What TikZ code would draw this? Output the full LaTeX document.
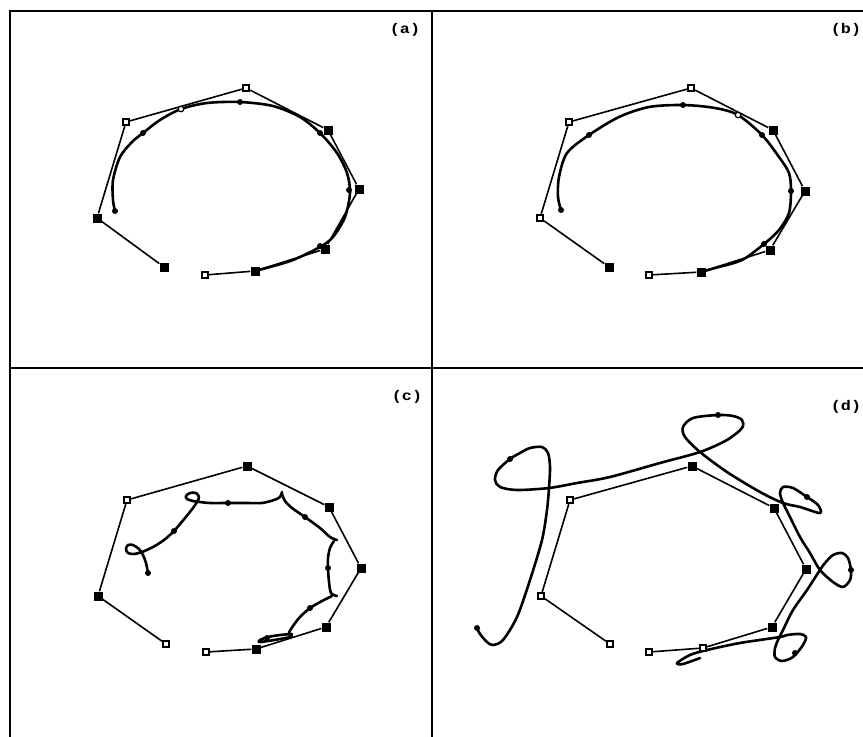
\documentclass[tikz,border=0pt]{standalone}
\usepackage{fontspec}
\newfontfamily\lblfont{Liberation Mono}
\begin{document}
\begin{tikzpicture}[x=1pt,y=-1pt,
 frame/.style={line width=2.2pt},
 poly/.style={line width=1.6pt},
 crv/.style={line width=2.6pt, line join=round, line cap=round},
 cpf/.style={rectangle, fill=black, minimum size=9pt, inner sep=0pt},
 cpo/.style={rectangle, draw=black, fill=white, line width=2.2pt, minimum size=6pt, inner sep=0pt},
 knot/.style={circle, fill=black, minimum size=6pt, inner sep=0pt},
 oknot/.style={circle, draw=black, fill=white, line width=1.2pt, minimum size=5.5pt, inner sep=0pt},
 lbl/.style={font=\lblfont\bfseries\fontsize{14}{14}\selectfont, inner sep=0pt}]
\useasboundingbox (0,0) rectangle (863,737);
% frame
\coordinate (tl) at (10,11);
\coordinate (tr) at (863,11);
\coordinate (bl) at (10,737);
\coordinate (tm) at (432,11);
\coordinate (bm) at (432,737);
\coordinate (ml) at (10,368);
\coordinate (mr) at (863,368);
\draw[frame] (bl) -- (tl) -- (tr);
\draw[frame] (tm) -- (bm);
\draw[frame] (ml) -- (mr);
% labels
\node[lbl] (la) at (405,30) {\scalebox{1.2}[1]{(a)}};
\node[lbl] (lb) at (846,30) {\scalebox{1.2}[1]{(b)}};
\node[lbl] (lc) at (407,397) {\scalebox{1.2}[1]{(c)}};
\node[lbl] (ld) at (846,407) {\scalebox{1.2}[1]{(d)}};

% ================= (a)
\draw[crv] plot[smooth] coordinates {(115,211) (113,200) (113,180) (120,157) (132,142) (143,133) (160,120) (181,109) (207,103) (240,102) (273,106) (300,117) (320,133) (337,153) (347,173) (350,193) (345,217) (333,237) (320,247) (293,260) (270,267) (255,271)};
\node[cpf] (a0) at (164,267) {};
\node[cpf] (a1) at (97,218) {};
\node[cpo] (a2) at (126,122) {};
\node[cpo] (a3) at (246,88) {};
\node[cpf] (a4) at (328,130) {};
\node[cpf] (a5) at (359,189) {};
\node[cpf] (a6) at (325,249) {};
\node[cpf] (a7) at (255,271) {};
\node[cpo] (a8) at (205,275) {};
\draw[poly] (a0) -- (a1) -- (a2) -- (a3) -- (a4) -- (a5) -- (a6) -- (a7) -- (a8);
\node[knot] (ak0) at (115,211) {};
\node[knot] (ak1) at (143,133) {};
\node[oknot] (ak2) at (181,109) {};
\node[knot] (ak3) at (240,102) {};
\node[knot] (ak4) at (320,133) {};
\node[knot] (ak5) at (349,190) {};
\node[knot] (ak6) at (320,246) {};

% ================= (b)
\draw[crv] plot[smooth] coordinates {(561,210) (558,197) (559,177) (567,153) (589,135) (619,117) (649,107) (683,105) (715,108) (738,115) (762,135) (779,157) (789,173) (791,191) (789,213) (779,230) (764,244) (742,260) (715,268) (701,272)};
\node[cpf] (b0) at (609,267) {};
\node[cpo] (b1) at (540,218) {};
\node[cpo] (b2) at (569,122) {};
\node[cpo] (b3) at (691,88) {};
\node[cpf] (b4) at (773,130) {};
\node[cpf] (b5) at (805,191) {};
\node[cpf] (b6) at (770,250) {};
\node[cpf] (b7) at (701,272) {};
\node[cpo] (b8) at (649,275) {};
\draw[poly] (b0) -- (b1) -- (b2) -- (b3) -- (b4) -- (b5) -- (b6) -- (b7) -- (b8);
\node[knot] (bk0) at (561,210) {};
\node[knot] (bk1) at (589,135) {};
\node[knot] (bk2) at (683,105) {};
\node[oknot] (bk3) at (738,115) {};
\node[knot] (bk4) at (762,135) {};
\node[knot] (bk5) at (791,191) {};
\node[knot] (bk6) at (764,244) {};

% ================= (c)
\draw[crv] plot[smooth] coordinates {(148,573) (146,563) (143,555) (139,549) (133,545) (128,545) (126,549) (128,553) (134,554) (142,552) (153,547) (164,540) (174,531) (185,518) (193,508) (197,502) (199,497) (196,493) (190,493) (186,496) (187,499) (193,501) (200,502) (210,503) (228,503) (247,503) (262,503) (274,500) (280,497) (282,492)};
\draw[crv] plot[smooth] coordinates {(282,494) (285,501) (292,508) (305,517) (320,528) (330,537) (337,540)};
\draw[crv] plot[smooth] coordinates {(334,541) (330,548) (328,558) (328,568) (329,582) (331,593) (337,596)};
\draw[crv] plot[smooth] coordinates {(332,596) (322,601) (310,608) (300,617) (293,626) (289,633) (292,636)};
\draw[crv] plot[smooth] coordinates {(292,634) (280,635) (268,637) (260,640) (259,642) (268,641) (280,639) (291,637)};
\node[cpo] (c0) at (166,644) {};
\node[cpf] (c1) at (98,596) {};
\node[cpo] (c2) at (127,500) {};
\node[cpf] (c3) at (247,466) {};
\node[cpf] (c4) at (329,507) {};
\node[cpf] (c5) at (361,568) {};
\node[cpf] (c6) at (326,627) {};
\node[cpf] (c7) at (256,649) {};
\node[cpo] (c8) at (206,652) {};
\draw[poly] (c0) -- (c1) -- (c2) -- (c3) -- (c4) -- (c5) -- (c6) -- (c7) -- (c8);
\node[knot] (ck0) at (148,573) {};
\node[knot] (ck1) at (174,531) {};
\node[knot] (ck2) at (228,503) {};
\node[knot] (ck3) at (305,517) {};
\node[knot] (ck4) at (328,568) {};
\node[knot] (ck5) at (310,608) {};
\node[knot] (ck6) at (267,638) {};

% ================= (d)
\draw[crv] plot[smooth] coordinates {(477,628) (480,634) (487,642) (493,645) (503,640) (517,617) (530,580) (542,540) (547,510) (549,488) (550,467) (548,453) (542,447) (530,448) (520,453) (510,459) (498,470) (495,480) (500,487) (517,490) (549,488) (577,483) (610,477) (660,463) (700,452) (727,440) (742,428) (742,420) (733,416) (718,415) (693,418) (683,427) (685,437) (700,452) (727,472) (760,492) (783,503) (800,507) (820,513) (818,505) (807,497) (793,488) (783,487) (780,493) (783,503) (788,513) (800,537) (810,553) (820,570) (833,582) (843,587) (850,580) (851,570) (848,558) (842,553) (833,555) (825,563) (820,570) (807,590) (793,610) (783,630) (778,640) (775,648) (775,657) (782,661) (793,657) (803,645) (806,637) (800,634) (787,635) (780,637) (740,643) (707,650) (690,655) (677,663) (683,664) (700,658)};
\node[cpo] (d0) at (610,644) {};
\node[cpo] (d1) at (541,596) {};
\node[cpo] (d2) at (570,500) {};
\node[cpf] (d3) at (692,466) {};
\node[cpf] (d4) at (774,508) {};
\node[cpf] (d5) at (806,569) {};
\node[cpf] (d6) at (772,627) {};
\node[cpo] (d7) at (703,648) {};
\node[cpo] (d8) at (649,652) {};
\draw[poly] (d0) -- (d1) -- (d2) -- (d3) -- (d4) -- (d5) -- (d6) -- (d7) -- (d8);
\node[knot] (dk0) at (477,628) {};
\node[knot] (dk1) at (510,459) {};
\node[knot] (dk2) at (718,415) {};
\node[knot] (dk3) at (807,497) {};
\node[knot] (dk4) at (851,570) {};
\node[knot] (dk5) at (795,653) {};
\end{tikzpicture}
\end{document}
